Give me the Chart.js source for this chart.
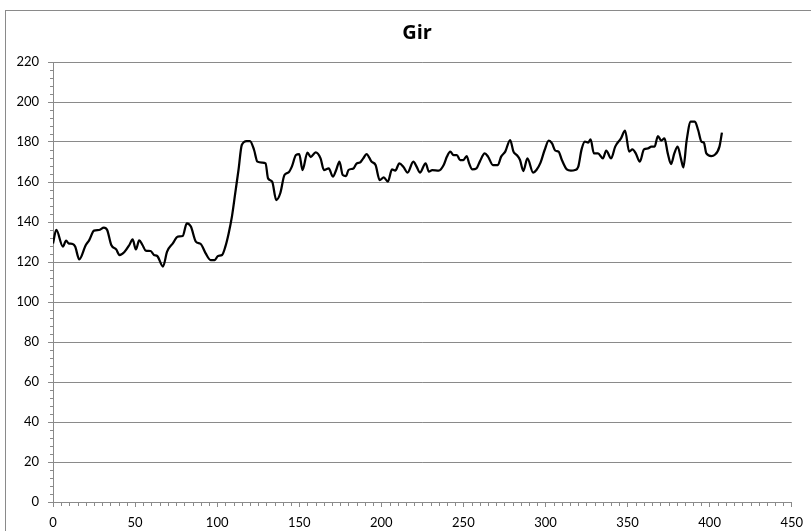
<!DOCTYPE html>
<html>
<head>
<meta charset="utf-8">
<title>Gir</title>
<script src="https://cdn.jsdelivr.net/npm/chart.js@4.4.1/dist/chart.umd.min.js"></script>
<style>
  html, body { margin: 0; padding: 0; background: #fff; overflow: hidden; }
  #wrap { position: relative; width: 811px; height: 531px; }
  #frame {
    position: absolute; left: 5px; top: 10px;
    width: 900px; height: 600px;
    border: 1px solid #8a8a8a;
  }
  #girChart { position: absolute; left: 0; top: 0; }
</style>
</head>
<body>
<div id="wrap">
  <div id="frame"></div>
  <canvas id="girChart" width="811" height="531"></canvas>
</div>
<script>
// Series
const chartTitle = "Gir";
const sampleX = [
  0, 2, 6, 8, 9.5, 12, 13.5, 16, 20, 22, 25, 28, 31, 33, 35.5, 38.5, 40.5, 43.5, 46.5, 48.5,
  50.5, 52.5, 54.5, 56.5, 59.5, 61.5, 63.5, 67, 69.5, 73, 76, 79, 81.5, 84, 87, 90, 93, 96, 98.5, 100.5,
  103, 105, 107, 109, 111, 113, 115, 118, 120, 122.5, 124.5, 127.5, 129.5, 131, 133.5, 136, 138.5, 141, 143.5, 145.5,
  148, 150, 152, 155, 157, 160, 163, 165, 168, 170.5, 172.5, 174.5, 176.5, 178.5, 180, 183, 185, 187, 189, 191,
  194, 196.5, 199, 201.5, 204, 206.5, 208.5, 211, 213.5, 216, 219.5, 221.5, 223.5, 227, 229, 231, 235, 238, 240, 242,
  244, 246, 248, 250, 252, 253.5, 255.5, 258, 260, 263, 265, 268, 271, 273, 275.5, 278.5, 280.5, 282.5, 284.5, 286.5,
  289, 292.5, 294.5, 297, 299.5, 302, 304, 306, 308, 310, 313, 315.5, 318, 320, 322, 324, 326, 327.5, 329.5, 332,
  335, 337, 340, 342.5, 346, 348.5, 351, 353, 355, 357.5, 360, 362.5, 364.5, 366.5, 368.5, 370.5, 372.5, 374.5, 376.5, 378.5,
  380.5, 382.5, 384, 386, 388.5, 391, 393, 395, 396.5, 398, 401, 403, 406, 407.5
];
const girValues = [
  129.3, 136, 127.7, 130.7, 129.3, 129, 127.7, 121.3, 128.5, 130.8, 135.7, 136, 137.2, 136, 128.5, 126.3, 123.5, 125, 128.5, 131.3,
  126.3, 130.8, 128.5, 125.7, 125.5, 123.5, 123, 117.7, 125.2, 129.3, 132.7, 133, 139.3, 137.7, 130.2, 129, 124.3, 121, 121, 123,
  123.5, 127.7, 134.3, 142.7, 154.3, 166, 178.5, 180.5, 180.5, 176, 170.2, 169.7, 169.3, 161.8, 160.2, 151, 154.5, 163.5, 164.8, 167.7,
  173.5, 174, 166, 174.7, 172.5, 174.8, 171.8, 166, 166.8, 162.7, 166, 170.2, 163.5, 163, 166, 166.8, 169.3, 169.7, 171.8, 174,
  170.2, 168.5, 161, 162.3, 160.2, 166.3, 165.7, 169.3, 167.5, 164.7, 170.2, 167.7, 164.7, 169.3, 165.2, 166, 165.7, 168.5, 172.7, 175.2,
  173.5, 173.5, 171, 171, 173, 169.3, 166.3, 166.8, 170.2, 174.3, 172.7, 168.5, 168.5, 172.7, 175.2, 181, 175.2, 173.5, 171, 165.5,
  171.8, 164.7, 166, 169.7, 176, 180.7, 179.3, 175.7, 175.2, 171, 166.3, 165.7, 166, 167.7, 176.3, 180.2, 179.7, 181.3, 174.3, 174.3,
  171.8, 175.7, 171.8, 177.7, 181.8, 185.7, 175.2, 176.3, 174.3, 170.2, 176.3, 176.8, 177.7, 177.7, 183, 180.7, 181.8, 174.3, 169, 174.3,
  177.7, 171.8, 167.3, 180.7, 190.2, 190.2, 186, 180.2, 179.7, 174.3, 173, 173.5, 177.7, 184.7
];

// Axes
const xRange = [0, 450];
const xStep = 50;
const xMinorStep = 5;
const yRange = [0, 220];
const yStep = 20;
const yMinorStep = 4;

const axisGray = "#8a8a8a";
const labelFont = { family: "Lato, 'Open Sans', sans-serif", size: 13 };

const points = sampleX.map((x, i) => ({ x: x, y: girValues[i] }));

// Title and minor tick marks
const extras = {
  id: "extras",
  afterDraw(chart) {
    const { ctx, chartArea, scales } = chart;
    const xs = scales.x, ys = scales.y;
    ctx.save();
    ctx.strokeStyle = axisGray;
    ctx.lineWidth = 1;
    ctx.beginPath();
    for (let v = yRange[0]; v <= yRange[1]; v += yMinorStep) {
      if (v % yStep === 0) continue;
      const py = Math.round(ys.getPixelForValue(v)) + 0.5;
      ctx.moveTo(chartArea.left - 3, py);
      ctx.lineTo(chartArea.left, py);
    }
    for (let v = xRange[0]; v <= xRange[1]; v += xMinorStep) {
      if (v % xStep === 0) continue;
      const px = Math.round(xs.getPixelForValue(v)) + 0.5;
      ctx.moveTo(px, chartArea.bottom);
      ctx.lineTo(px, chartArea.bottom + 4);
    }
    ctx.stroke();

    ctx.fillStyle = "#000";
    ctx.font = "bold 20px 'Open Sans', Lato, sans-serif";
    ctx.textAlign = "center";
    ctx.textBaseline = "middle";
    ctx.fillText(chartTitle, 417, 33);
    ctx.restore();
  }
};

new Chart(document.getElementById("girChart"), {
  type: "scatter",
  data: {
    datasets: [{
      label: chartTitle,
      data: points,
      showLine: true,
      borderColor: "#000",
      borderWidth: 2.25,
      pointRadius: 0,
      cubicInterpolationMode: "monotone",
      fill: false
    }]
  },
  options: {
    responsive: false,
    animation: false,
    layout: { padding: { top: 62, right: 16, left: 0, bottom: 0 } },
    plugins: {
      legend: { display: false },
      title: { display: false },
      tooltip: { enabled: false }
    },
    scales: {
      x: {
        type: "linear",
        min: xRange[0],
        max: xRange[1],
        afterFit(scale) { scale.height = 29; },
        border: { color: axisGray, width: 1 },
        grid: { drawOnChartArea: false, drawTicks: true, tickLength: 5, color: axisGray },
        ticks: { stepSize: xStep, color: "#000", font: labelFont, padding: 8, maxRotation: 0 }
      },
      y: {
        min: yRange[0],
        max: yRange[1],
        afterFit(scale) { scale.width = 53; },
        border: { color: axisGray, width: 1 },
        grid: { color: axisGray, tickLength: 5, tickColor: axisGray },
        ticks: { stepSize: yStep, color: "#000", font: labelFont, padding: 9 }
      }
    }
  },
  plugins: [extras]
});
</script>
</body>
</html>
